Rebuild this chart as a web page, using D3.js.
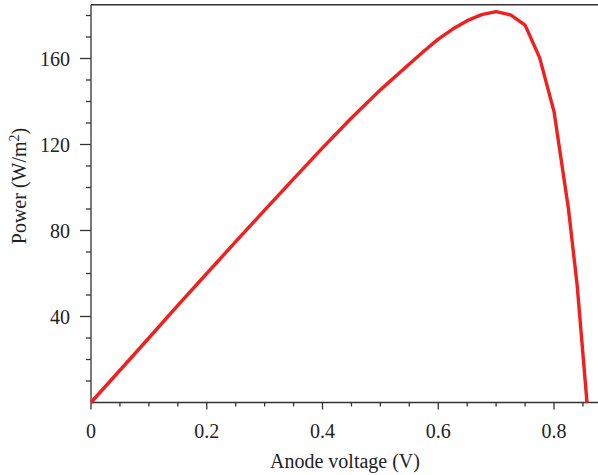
<!DOCTYPE html>
<html><head><meta charset="utf-8">
<script src="https://cdn.jsdelivr.net/npm/d3@7"></script>
<style>body{margin:0;background:#fff}svg{display:block}</style>
</head><body>
<svg id="c" width="598" height="475"></svg>
<script>
const voltage = [0,0.05,0.1,0.15,0.2,0.25,0.3,0.35,0.4,0.45,0.5,0.55,0.575,0.6,0.625,0.65,0.675,0.7,0.725,0.75,0.775,0.8,0.825,0.84,0.857];
const power   = [0,15,30,45.2,60,74.8,89.5,104,118.4,132.3,145.4,157.4,163.4,169,173.7,177.6,180.4,181.8,180.3,175.5,160.5,135.3,90,54.5,0];
const xTicks = [0,0.2,0.4,0.6,0.8];
const yTicks = [40,80,120,160];

const svg = d3.select("#c");
const x = d3.scaleLinear().domain([0,0.876]).range([91,598]);
const y = d3.scaleLinear().domain([0,185]).range([402.5,4.75]);
const font = "'Liberation Serif','Times New Roman',serif";
const axisColor = "#333";
const fs = 20;

// top border
svg.append("line").attr("x1",91).attr("x2",598).attr("y1",y(185)).attr("y2",y(185))
  .attr("stroke",axisColor).attr("stroke-width",1.3);

// x axis
const gx = svg.append("g").attr("transform",`translate(0,${y(0)})`);
gx.append("line").attr("x1",91).attr("x2",598).attr("stroke",axisColor).attr("stroke-width",1.3);
const xMinor = d3.range(0,0.876,0.05);
gx.selectAll(".xm").data(xMinor).join("line")
  .attr("x1",d=>x(d)).attr("x2",d=>x(d)).attr("y1",0)
  .attr("y2",d=>xTicks.some(t=>Math.abs(t-d)<1e-6)?7:4)
  .attr("stroke",axisColor).attr("stroke-width",1.3);
gx.selectAll(".xl").data(xTicks).join("text")
  .attr("x",d=>x(d)).attr("y",35).attr("text-anchor","middle")
  .attr("font-family",font).attr("font-size",fs).attr("fill","#222")
  .text(d=>d===0?"0":d3.format(".1f")(d));
svg.append("text").attr("x",345).attr("y",468).attr("text-anchor","middle")
  .attr("font-family",font).attr("font-size",fs).attr("fill","#222").text("Anode voltage (V)");

// y axis
const gy = svg.append("g").attr("transform",`translate(91,0)`);
gy.append("line").attr("y1",y(0)).attr("y2",y(185)).attr("stroke",axisColor).attr("stroke-width",1.3);
const yMinor = d3.range(10,181,10);
gy.selectAll(".ym").data(yMinor).join("line")
  .attr("y1",d=>y(d)).attr("y2",d=>y(d)).attr("x1",0)
  .attr("x2",d=>yTicks.includes(d)?-11:-5)
  .attr("stroke",axisColor).attr("stroke-width",1.3);
gy.selectAll(".yl").data(yTicks).join("text")
  .attr("x",-21).attr("y",d=>y(d)).attr("dy","0.35em").attr("text-anchor","end")
  .attr("font-family",font).attr("font-size",fs).attr("fill","#222").text(d=>d);
const yt = svg.append("text").attr("transform","translate(26,186) rotate(-90)")
  .attr("text-anchor","middle").attr("font-family",font).attr("font-size",fs).attr("fill","#222");
yt.append("tspan").text("Power (W/m");
yt.append("tspan").attr("dy",-7).attr("font-size",14).text("2");
yt.append("tspan").attr("dy",7).text(")");

// curve
const pts = voltage.map((v,i)=>[v,power[i]]);
svg.append("path").datum(pts)
  .attr("d",d3.line().x(d=>x(d[0])).y(d=>y(d[1])))
  .attr("fill","none").attr("stroke","#f0201e").attr("stroke-width",3.4)
  .attr("stroke-linejoin","round");
</script>
</body></html>
